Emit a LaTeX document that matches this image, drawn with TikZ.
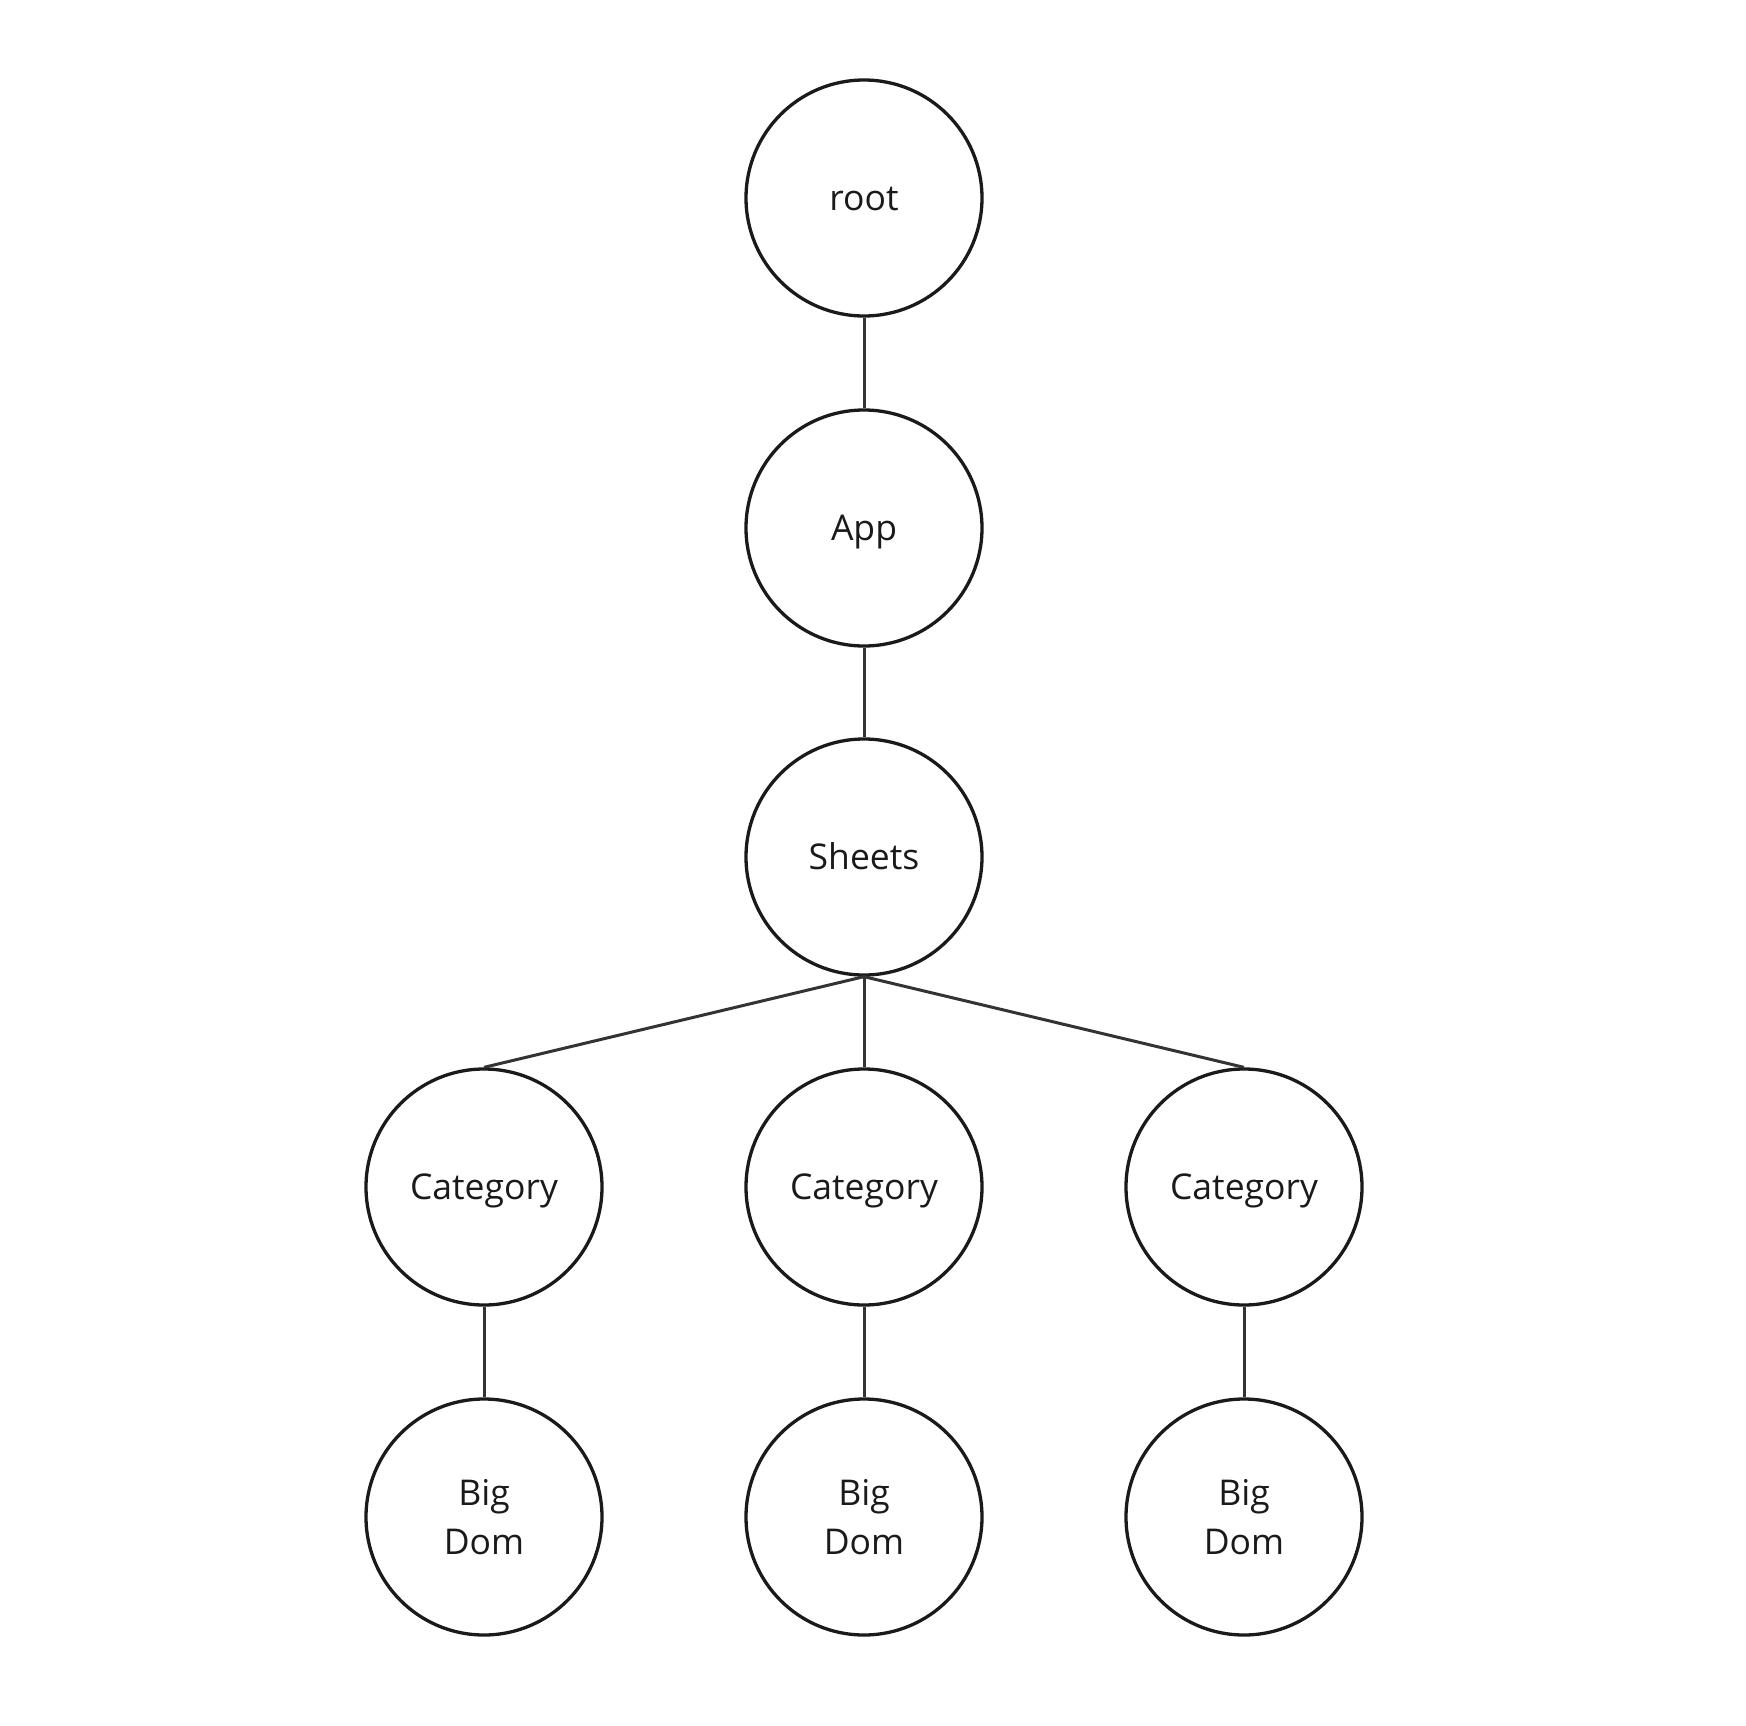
\documentclass[tikz,border=0pt]{standalone}
\usepackage{fontspec}
\setmainfont{Open Sans}
\definecolor{ink}{HTML}{1A1A1A}
\definecolor{edgeink}{HTML}{333333}
\begin{document}
\begin{tikzpicture}[x=1pt,y=-1pt,
  treenode/.style={circle,draw=ink,line width=3.3pt,minimum size=236pt,inner sep=0pt,align=center,
    font=\fontsize{35.5}{49}\selectfont,text=ink},
  oneline/.style={text height=31pt,text depth=6pt},
  link/.style={draw=edgeink,line width=3pt}]
\useasboundingbox (0,0) rectangle (1746,1726);
\node[treenode,oneline] (root) at (864,198) {root};
\node[treenode,oneline] (app) at (864,528) {App};
\node[treenode,oneline] (sheets) at (864,857) {Sheets};
\node[treenode,oneline] (c1) at (484,1187) {Category};
\node[treenode,oneline] (c2) at (864,1187) {Category};
\node[treenode,oneline] (c3) at (1244,1187) {Category};
\node[treenode] (d1) at (484,1517) {Big\\Dom};
\node[treenode] (d2) at (864,1517) {Big\\Dom};
\node[treenode] (d3) at (1244,1517) {Big\\Dom};
\path[link] (root.south) -- (app.north);
\path[link] (app.south) -- (sheets.north);
\path[link] (sheets.south) -- (c1.north);
\path[link] (sheets.south) -- (c2.north);
\path[link] (sheets.south) -- (c3.north);
\path[link] (c1.south) -- (d1.north);
\path[link] (c2.south) -- (d2.north);
\path[link] (c3.south) -- (d3.north);
\end{tikzpicture}
\end{document}
